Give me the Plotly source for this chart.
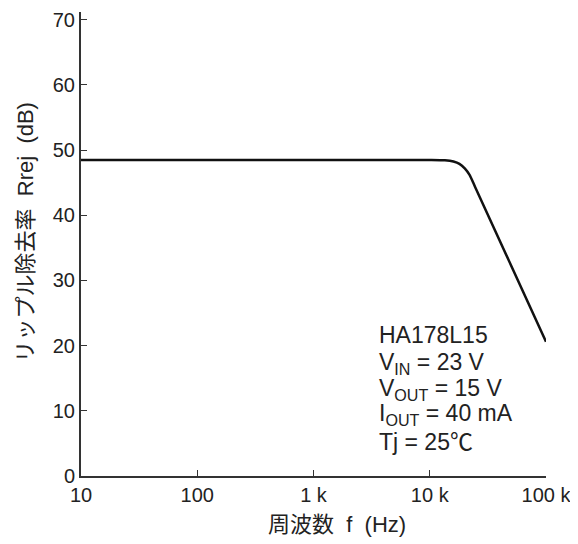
import plotly.graph_objects as go

freq_hz = [10, 100, 1000, 10000, 13500, 16000, 18000, 20000, 22000, 24500, 100000]
rrej_db = [48.5, 48.5, 48.5, 48.5, 48.45, 48.25, 47.9, 47.2, 46.2, 44.4, 20.6]

y_ticks = [0, 10, 20, 30, 40, 50, 60, 70]
x_tickvals = [10, 100, 1000, 10000, 100000]
x_ticktext = ["10", "100", "1 k", "10 k", "100 k"]

note_lines = ["HA178L15", "V<sub>IN</sub> = 23 V", "V<sub>OUT</sub> = 15 V",
              "I<sub>OUT</sub> = 40 mA", "Tj = 25℃"]
note_y = [21.6, 17.3, 13.2, 9.4, 5.2]

x_title = "周波数\u00a0\u00a0f\u00a0\u00a0(Hz)"
y_title = "リップル除去率\u00a0\u00a0Rrej\u00a0\u00a0(dB)"

font_main = "Liberation Sans, Arial, Noto Sans CJK JP, sans-serif"
font_cjk = "Liberation Sans, Noto Sans CJK JP, sans-serif"

fig = go.Figure()
fig.add_trace(go.Scatter(x=freq_hz, y=rrej_db, mode="lines",
                         line=dict(color="#111111", width=2.5, shape="spline", smoothing=0.6),
                         showlegend=False, hoverinfo="skip"))

# page body has an 8px margin, so the figure is offset by 8px
fig.update_layout(
    width=570, height=536,
    margin=dict(l=73, r=32, t=4, b=68),
    paper_bgcolor="white", plot_bgcolor="white",
    font=dict(family=font_main, size=20, color="#222222"),
)
fig.update_xaxes(type="log", range=[1, 5], tickvals=x_tickvals, ticktext=x_ticktext,
                 automargin=False,
                 showgrid=False, zeroline=False, showline=True, linecolor="#333333", linewidth=2,
                 ticks="inside", ticklen=6, tickwidth=1, tickcolor="#333333",
                 tickfont=dict(size=20), ticklabelstandoff=0)
fig.update_yaxes(range=[0, 71.2], tickvals=y_ticks, automargin=False,
                 showgrid=False, zeroline=False, showline=True, linecolor="#333333", linewidth=2,
                 ticks="inside", ticklen=6, tickwidth=1, tickcolor="#333333",
                 tickfont=dict(size=20))

for txt, yv in zip(note_lines, note_y):
    fig.add_annotation(text=txt, xref="x", yref="y", x=3.546, y=yv,
                       xanchor="left", yanchor="middle", showarrow=False,
                       align="left", font=dict(size=23, family=font_main, color="#222222"))

fig.add_annotation(text=x_title, xref="paper", yref="paper", x=0.55, y=0,
                   yshift=-48, xanchor="center", yanchor="middle", showarrow=False,
                   font=dict(size=22, family=font_cjk, color="#222222"))
fig.add_annotation(text=y_title, xref="paper", yref="paper", x=0, y=0.525,
                   xshift=-56, xanchor="center", yanchor="middle", textangle=-90,
                   showarrow=False, font=dict(size=22, family=font_cjk, color="#222222"))

fig.write_html("out.html")
